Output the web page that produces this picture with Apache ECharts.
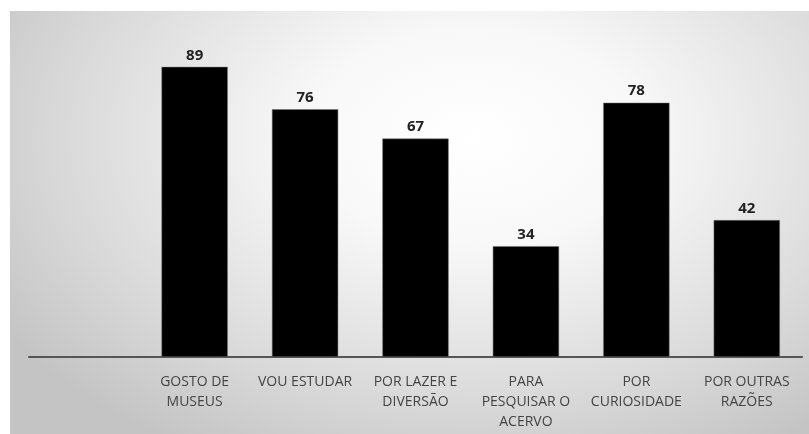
<!DOCTYPE html>
<html>
<head>
<meta charset="utf-8">
<script src="https://cdn.jsdelivr.net/npm/echarts@6/dist/echarts.min.js"></script>
<style>
html,body{margin:0;padding:0;background:#fff;}
#bg{position:absolute;left:10px;top:11px;width:799px;height:423px;
 background:radial-gradient(ellipse 70% 85% at 58% 30%, #ffffff 0%, #f8f8f8 30%, #d8d8d8 75%, #c4c4c4 100%);}
#main{position:absolute;left:0;top:0;width:809px;height:434px;}
</style>
</head>
<body>
<div id="bg"></div>
<div id="main"></div>
<script>
// categorias (a primeira fica vazia, como no original)
var categorias = ['', 'GOSTO DE\nMUSEUS', 'VOU ESTUDAR', 'POR LAZER E\nDIVERSÃO', 'PARA\nPESQUISAR O\nACERVO', 'POR\nCURIOSIDADE', 'POR OUTRAS\nRAZÕES'];
var valores = [null, 89, 76, 67, 34, 78, 42];

buildChart();

function buildChart(){
	var myChart = echarts.init(document.getElementById('main'));
	var option = {
		backgroundColor: 'transparent',
		animation: false,
		grid: {left: 29, right: 7, top: 31, bottom: 77, containLabel: false},
		xAxis: {
			type: 'category',
			data: categorias,
			axisLine: {show: true, lineStyle: {color: '#555', width: 2}},
			axisTick: {show: false},
			axisLabel: {
				interval: 0,
				color: '#444',
				fontFamily: 'Open Sans',
				fontSize: 14,
				lineHeight: 20,
				margin: 15
			}
		},
		yAxis: {
			type: 'value',
			min: 0,
			max: 100,
			show: false,
			splitLine: {show: false}
		},
		series: [{
			type: 'bar',
			data: valores,
			barCategoryGap: '40%',
			itemStyle: {color: '#000', borderColor: '#777', borderWidth: 0.5},
			label: {
				show: true,
				position: 'top',
				distance: 4,
				color: '#222',
				fontWeight: 'bold',
				fontFamily: 'Open Sans',
				fontSize: 15
			}
		}]
	};
	myChart.setOption(option);
}
</script>
</body>
</html>
